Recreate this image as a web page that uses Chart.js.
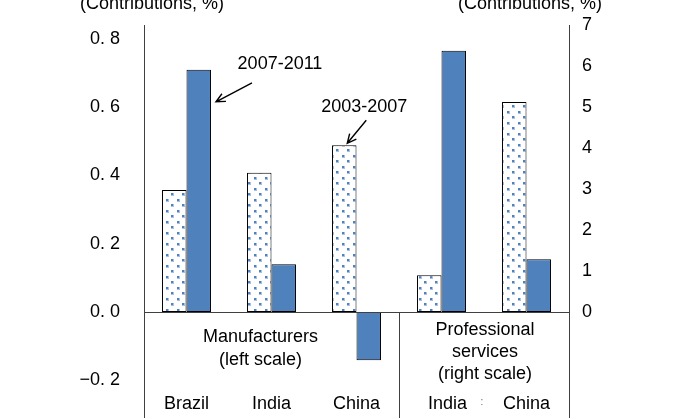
<!DOCTYPE html>
<html>
<head>
<meta charset="utf-8">
<script src="https://cdn.jsdelivr.net/npm/chart.js@4.4.0/dist/chart.umd.min.js"></script>
<style>
  html, body { margin: 0; padding: 0; background: #fff; }
  #wrap { width: 688px; height: 418px; }
</style>
</head>
<body>
<div id="wrap"><canvas id="chart" width="688" height="418"></canvas></div>
<script>
const categories = ['Brazil', 'India', 'China', 'India', 'China'];
const periods = ['2003-2007', '2007-2011'];

// manufacturers (left scale)
const mfg0307 = [0.357, 0.408, 0.488, null, null];
const mfg0711 = [0.709, 0.140, -0.141, null, null];
// professional services (right scale)
const svc0307 = [null, null, null, 0.90, 5.12];
const svc0711 = [null, null, null, 6.37, 1.29];

const leftTicks = [-0.2, 0, 0.2, 0.4, 0.6, 0.8];
const rightTicks = [0, 1, 2, 3, 4, 5, 6, 7];

const groups = [
    { lines: ['Manufacturers', '(left scale)'], from: 0, to: 2 },
    { lines: ['Professional', 'services', '(right scale)'], from: 3, to: 4 }
];
const unitTitle = '(Contributions, %)';

const BLUE = '#4F81BD';
const FONT = '"Liberation Sans", Arial, sans-serif';

// white fill with staggered blue dots
function dotPattern() {
    const c = document.createElement('canvas');
    c.width = 11;
    c.height = 11;
    const g = c.getContext('2d');
    g.fillStyle = '#fff';
    g.fillRect(0, 0, 11, 11);
    [[1, 1], [6, 6]].forEach(([px, py]) => {
        g.fillStyle = '#A9C0DE';
        g.fillRect(px, py, 3, 3);
        g.fillStyle = BLUE;
        g.fillRect(px, py, 2, 2);
    });
    return g.createPattern(c, 'repeat');
}

const ctx = document.getElementById('chart').getContext('2d');
const dots = dotPattern();

function arrow(g, x1, y1, x2, y2) {
    const a = Math.atan2(y2 - y1, x2 - x1);
    const len = 10, spread = 0.45;
    g.beginPath();
    g.moveTo(x1, y1);
    g.lineTo(x2, y2);
    g.moveTo(x2 - len * Math.cos(a - spread), y2 - len * Math.sin(a - spread));
    g.lineTo(x2, y2);
    g.lineTo(x2 - len * Math.cos(a + spread), y2 - len * Math.sin(a + spread));
    g.stroke();
}

const labelsPlugin = {
    id: 'labels',
    afterDatasetsDraw(chart) {
        const g = chart.ctx;
        const area = chart.chartArea;
        const x = chart.scales.x;
        const y0 = chart.scales.yL.getPixelForValue(0);
        g.save();

        // zero line and group separator
        g.strokeStyle = '#000';
        g.lineWidth = 1;
        g.beginPath();
        g.moveTo(area.left, Math.round(y0) + 0.5);
        g.lineTo(area.right, Math.round(y0) + 0.5);
        const sep = Math.round((x.getPixelForValue(2) + x.getPixelForValue(3)) / 2) + 0.5;
        g.moveTo(sep, y0);
        g.lineTo(sep, area.bottom);
        g.strokeStyle = '#404040';
        g.stroke();

        g.fillStyle = '#000';
        g.font = '18px ' + FONT;
        g.textAlign = 'center';
        g.textBaseline = 'alphabetic';

        // unit titles over each axis
        g.fillText(unitTitle, area.left + 8, 9);
        g.fillText(unitTitle, area.right - 39, 9);

        // category names
        categories.forEach((name, i) => {
            g.fillText(name, x.getPixelForValue(i) + (i === 3 ? 6 : 0), 409);
        });
        g.font = '10px ' + FONT;
        g.fillStyle = '#666';
        g.fillText(':', (x.getPixelForValue(3) + x.getPixelForValue(4)) / 2 - 2, 405);

        // group captions
        g.font = '18px ' + FONT;
        g.fillStyle = '#000';
        groups.forEach((grp, k) => {
            const cx = (x.getPixelForValue(grp.from) + x.getPixelForValue(grp.to)) / 2 - (k === 0 ? 11 : -1);
            const top = k === 0 ? 342 : 335;
            const step = k === 0 ? 23 : 22;
            grp.lines.forEach((t, j) => g.fillText(t, cx, top + j * step));
        });

        // period callouts
        g.strokeStyle = '#000';
        g.lineWidth = 1.4;
        const b1 = chart.getDatasetMeta(1).data[0];
        const t1 = { x: b1.x + b1.width / 2 + 5, y: b1.y + 32 };
        arrow(g, t1.x + 36, t1.y - 19, t1.x, t1.y);
        g.textBaseline = 'middle';
        g.fillText(periods[1], t1.x + 64, t1.y - 38);

        const b2 = chart.getDatasetMeta(0).data[2];
        const t2 = { x: b2.x + 3, y: b2.y - 2 };
        arrow(g, t2.x + 19, t2.y - 23, t2.x, t2.y);
        g.fillText(periods[0], t2.x + 17, t2.y - 36);

        g.restore();
    }
};

function fmtLeft(v) {
    return v.toFixed(1).replace('-', '\u2212').replace('.', '. ');
}

const tickFont = { family: FONT, size: 18 };

new Chart(ctx, {
    type: 'bar',
    data: {
        labels: categories,
        datasets: [
            { label: periods[0], data: mfg0307, yAxisID: 'yL', backgroundColor: dots },
            { label: periods[1], data: mfg0711, yAxisID: 'yL', backgroundColor: BLUE },
            { label: periods[0], data: svc0307, yAxisID: 'yR', backgroundColor: dots },
            { label: periods[1], data: svc0711, yAxisID: 'yR', backgroundColor: BLUE }
        ]
    },
    options: {
        responsive: false,
        animation: false,
        devicePixelRatio: 1,
        layout: { padding: { top: 25, left: 0, right: 0, bottom: 0 } },
        datasets: {
            bar: {
                skipNull: true,
                categoryPercentage: 0.576,
                barPercentage: 1,
                borderColor: '#000',
                borderWidth: 1,
                borderSkipped: false
            }
        },
        plugins: {
            legend: { display: false },
            tooltip: { enabled: false }
        },
        scales: {
            x: { display: false },
            yL: {
                position: 'left',
                min: -0.31,
                max: 0.84,
                afterBuildTicks: s => { s.ticks = leftTicks.map(v => ({ value: v })); },
                afterFit: s => { s.width = 144; s.paddingTop = 0; s.paddingBottom = 0; },
                grid: { display: false, drawTicks: false },
                border: { display: true, color: '#404040', width: 1 },
                ticks: { padding: 24, color: '#000', font: tickFont, callback: v => fmtLeft(v) }
            },
            yR: {
                position: 'right',
                min: -2.583,
                max: 7,
                afterBuildTicks: s => { s.ticks = rightTicks.map(v => ({ value: v })); },
                afterFit: s => { s.width = 119; s.paddingTop = 0; s.paddingBottom = 0; },
                grid: { display: false, drawTicks: false },
                border: { display: true, color: '#404040', width: 1 },
                ticks: { padding: 13, color: '#000', font: tickFont, callback: v => String(v) }
            }
        }
    },
    plugins: [labelsPlugin]
});
</script>
</body>
</html>
